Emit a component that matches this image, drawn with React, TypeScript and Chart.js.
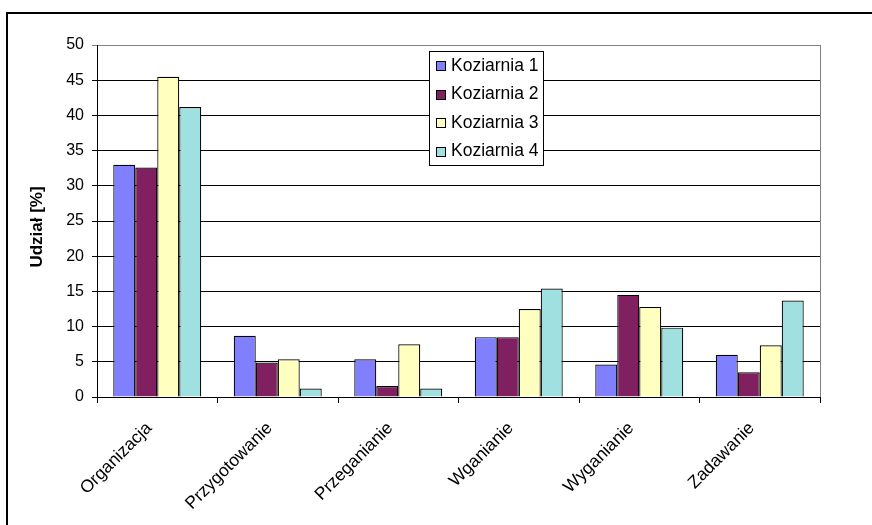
import React, { useEffect, useRef } from "react";
import { Chart, registerables } from "chart.js";

Chart.register(...registerables);

const categories = ["Organizacja", "Przygotowanie", "Przeganianie", "Wganianie", "Wyganianie", "Zadawanie"];
const seriesLabels = ["Koziarnia 1", "Koziarnia 2", "Koziarnia 3", "Koziarnia 4"];
const koziarnia1 = [33.0, 8.7, 5.35, 8.5, 4.6, 6.0];
const koziarnia2 = [32.6, 4.9, 1.55, 8.5, 14.5, 3.5];
const koziarnia3 = [45.5, 5.35, 7.5, 12.5, 12.8, 7.35];
const koziarnia4 = [41.2, 1.2, 1.2, 15.4, 9.85, 13.7];
const seriesColors = ["#8080FF", "#802060", "#FFFFC0", "#A0E0E0"];
const yMin = 0;
const yMax = 50;
const yStep = 5;
const yAxisTitle = "Udział [%]";

const FONT = "'Liberation Sans', Arial, sans-serif";

const framePlugin = {
  id: "frame",
  afterDraw(chart: any) {
    const ctx = chart.ctx;
    const a = chart.chartArea;
    ctx.save();
    // plot area right border (gray)
    ctx.strokeStyle = "#808080";
    ctx.lineWidth = 1;
    ctx.beginPath();
    ctx.moveTo(Math.round(a.right) + 0.5, a.top);
    ctx.lineTo(Math.round(a.right) + 0.5, a.bottom);
    ctx.stroke();
    // outer frame
    ctx.strokeStyle = "#000";
    ctx.lineWidth = 2;
    ctx.beginPath();
    ctx.moveTo(7, chart.height + 5);
    ctx.lineTo(7, 13);
    ctx.lineTo(chart.width + 5, 13);
    ctx.stroke();
    // y axis title
    ctx.fillStyle = "#000";
    ctx.font = `bold 17px ${FONT}`;
    ctx.textAlign = "center";
    ctx.textBaseline = "middle";
    ctx.translate(37, (a.top + a.bottom) / 2 + 6);
    ctx.rotate(-Math.PI / 2);
    ctx.fillText(yAxisTitle, 0, 0);
    ctx.restore();

    // legend
    ctx.save();
    const bx = 429.5, by = 51.5, bw = 114, bh = 114;
    ctx.fillStyle = "#fff";
    ctx.fillRect(bx, by, bw, bh);
    ctx.strokeStyle = "#000";
    ctx.lineWidth = 1;
    ctx.strokeRect(bx, by, bw, bh);
    ctx.font = `17.5px ${FONT}`;
    ctx.textAlign = "left";
    ctx.textBaseline = "middle";
    chart.data.datasets.forEach((ds: any, i: number) => {
      const cy = 66 + i * 28.5;
      ctx.fillStyle = ds.backgroundColor;
      ctx.fillRect(436.5, Math.round(cy - 5) + 0.5, 9, 9);
      ctx.strokeStyle = "#000";
      ctx.strokeRect(436.5, Math.round(cy - 5) + 0.5, 9, 9);
      ctx.fillStyle = "#000";
      ctx.fillText(ds.label, 451, cy);
    });
    ctx.restore();
  },
};

export default function App() {
  const ref = useRef<HTMLCanvasElement | null>(null);

  useEffect(() => {
    document.body.style.margin = "0";
    const values = [koziarnia1, koziarnia2, koziarnia3, koziarnia4];
    const chart = new Chart(ref.current as HTMLCanvasElement, {
      type: "bar",
      data: {
        labels: categories,
        datasets: seriesLabels.map((label, i) => ({
          label,
          data: values[i],
          backgroundColor: seriesColors[i],
          borderColor: "#000",
          borderWidth: 1.2,
          categoryPercentage: 0.73,
          barPercentage: 1,
        })),
      },
      options: {
        animation: false,
        responsive: true,
        maintainAspectRatio: false,
        layout: { padding: { top: 45, right: 52, left: 0, bottom: 0 } },
        plugins: {
          legend: { display: false },
          tooltip: { enabled: false },
          title: { display: false },
        },
        scales: {
          x: {
            offset: true,
            grid: {
              offset: true,
              drawOnChartArea: false,
              drawTicks: true,
              tickLength: 6,
              color: "#000",
            },
            border: { color: "#000", width: 1 },
            ticks: {
              autoSkip: false,
              minRotation: 45,
              maxRotation: 45,
              padding: 15,
              labelOffset: -8,
              color: "#000",
              font: { family: FONT, size: 17.5 },
            },
            afterFit: (s: any) => {
              s.height = 128;
            },
          },
          y: {
            min: yMin,
            max: yMax,
            ticks: {
              stepSize: yStep,
              padding: 8,
              color: "#000",
              font: { family: FONT, size: 16 },
            },
            grid: {
              color: (c: any) => (c.tick && c.tick.value === yMax ? "#808080" : "#000"),
              tickLength: 5,
              drawTicks: true,
            },
            border: { color: "#000", width: 1 },
            afterFit: (s: any) => {
              s.width = 97;
            },
          },
        },
      },
      plugins: [framePlugin],
    });
    return () => chart.destroy();
  }, []);

  return (
    <div style={{ width: 872, height: 525, position: "relative", background: "#fff" }}>
      <canvas ref={ref} />
    </div>
  );
}
